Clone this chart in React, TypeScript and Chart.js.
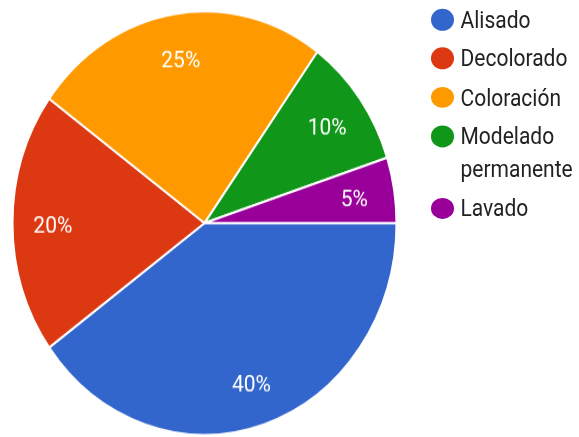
import React, { useEffect, useRef } from "react";
import { Chart, registerables } from "chart.js";

Chart.register(...registerables);

const categories = ["Alisado", "Decolorado", "Coloración", "Modelado permanente", "Lavado"];
const values = [40, 20, 25, 10, 5];
const colors = ["#3366CC", "#DC3912", "#FF9900", "#109618", "#990099"];

const STRETCH = 1.1;

const pctLabels = {
  id: "pctLabels",
  afterDatasetsDraw(chart: any) {
    const ctx = chart.ctx;
    const meta = chart.getDatasetMeta(0);
    const data = chart.data.datasets[0].data as number[];
    const total = data.reduce((a, b) => a + b, 0);
    ctx.save();
    ctx.font = "21px Roboto";
    ctx.fillStyle = "#ffffff";
    ctx.textAlign = "center";
    ctx.textBaseline = "middle";
    meta.data.forEach((arc: any, i: number) => {
      const { x, y, startAngle, endAngle, outerRadius } = arc.getProps(
        ["x", "y", "startAngle", "endAngle", "outerRadius"],
        true
      );
      const mid = (startAngle + endAngle) / 2;
      const r = outerRadius * 0.79;
      ctx.fillText(
        Math.round((data[i] / total) * 100) + "%",
        x + Math.cos(mid) * r,
        y + Math.sin(mid) * r + 3.5
      );
    });
    ctx.restore();
  },
};

export default function App() {
  const ref = useRef<HTMLCanvasElement | null>(null);

  useEffect(() => {
    if (!ref.current) return;
    const chart = new Chart(ref.current, {
      type: "pie",
      data: {
        labels: categories,
        datasets: [
          {
            data: values,
            backgroundColor: colors,
            borderColor: "#ffffff",
            borderWidth: 2,
            hoverOffset: 0,
          },
        ],
      },
      options: {
        animation: false,
        responsive: true,
        maintainAspectRatio: false,
        rotation: 90,
        radius: 192,
        layout: { padding: 0 },
        plugins: {
          legend: { display: false },
          tooltip: { enabled: false },
        },
      } as any,
      plugins: [pctLabels],
    });
    return () => chart.destroy();
  }, []);

  return (
    <div
      style={{
        position: "fixed",
        left: 0,
        top: 0,
        width: 579,
        height: 437,
        background: "#ffffff",
        overflow: "hidden",
      }}
    >
      <div
        style={{
          position: "absolute",
          left: 0,
          top: 0,
          width: 579,
          height: 437 / STRETCH,
          transform: `scaleY(${STRETCH})`,
          transformOrigin: "0 0",
        }}
      >
        <div style={{ position: "absolute", left: 0, top: 0, width: 409, height: 404.6 }}>
          <canvas ref={ref} />
        </div>
        <div
          style={{
            position: "absolute",
            left: 430.5,
            top: 2.8,
            fontFamily: "Roboto, sans-serif",
            fontSize: 21,
            lineHeight: "30px",
            color: "#222222",
          }}
        >
          {categories.map((c, i) => (
            <div key={c} style={{ display: "flex", alignItems: "flex-start", marginBottom: 5.4 }}>
              <div
                style={{
                  width: 23,
                  height: 19.5,
                  borderRadius: "50%",
                  background: colors[i],
                  marginTop: 5.25,
                  flex: "0 0 auto",
                }}
              />
              <div style={{ marginLeft: 7, width: 120 }}>{c}</div>
            </div>
          ))}
        </div>
      </div>
    </div>
  );
}
